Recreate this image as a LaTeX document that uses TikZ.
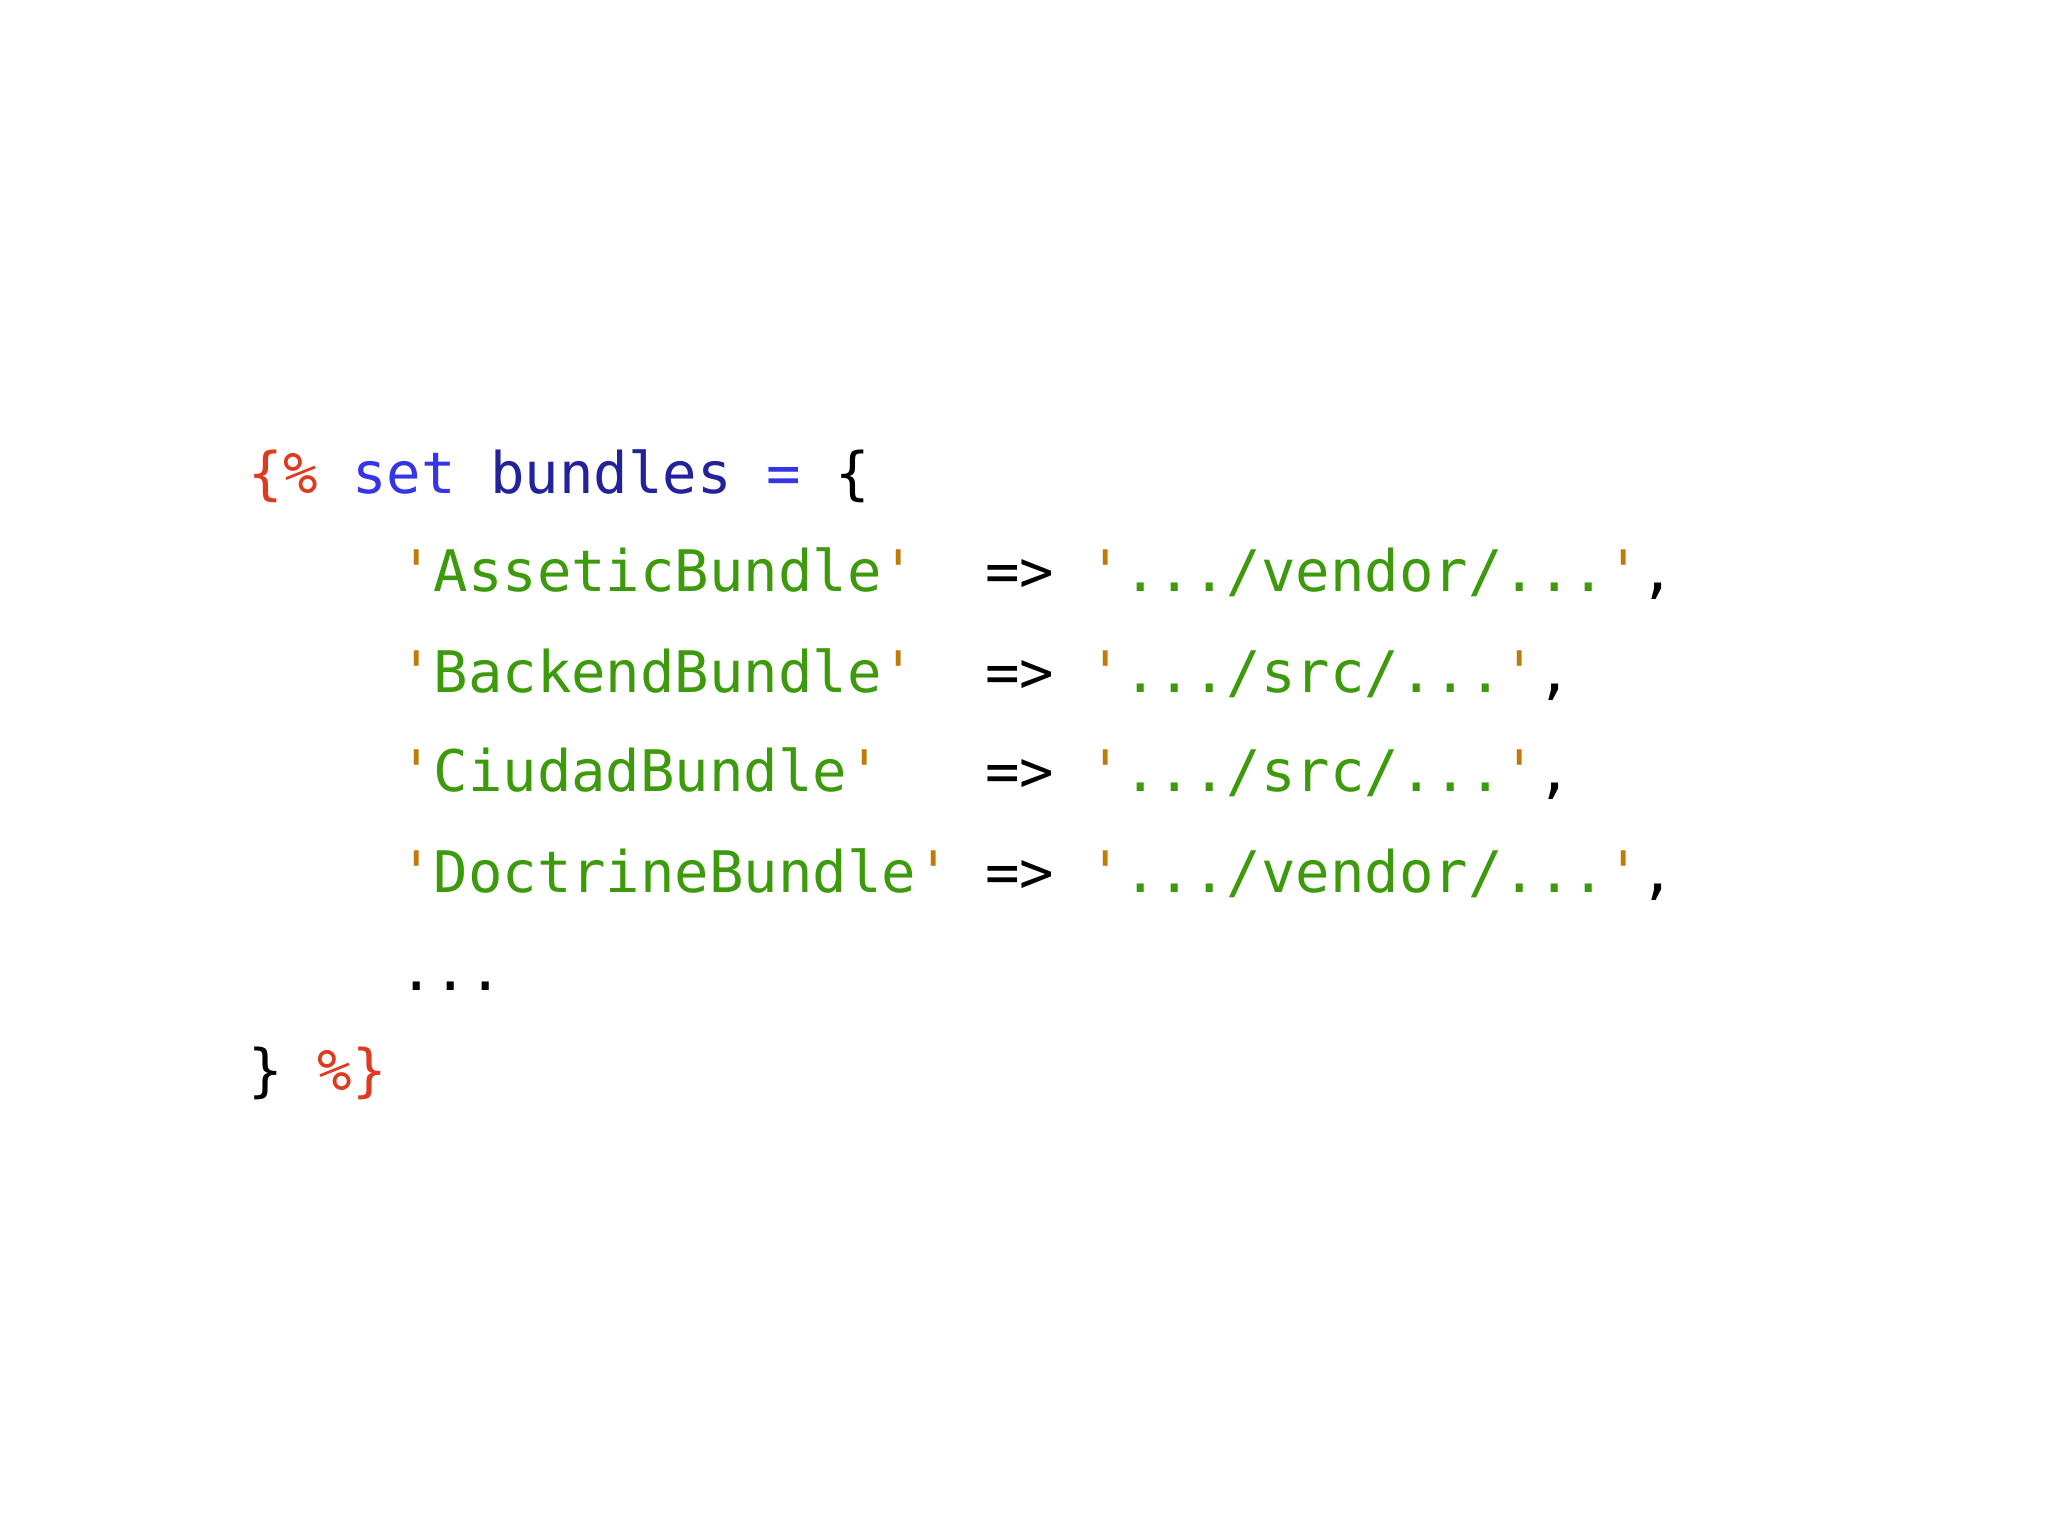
\documentclass[tikz,border=0pt]{standalone}
\usepackage{fontspec}
\setmonofont{DejaVu Sans Mono}
\definecolor{tred}{HTML}{E03A1E}
\definecolor{tblue}{HTML}{3535E8}
\definecolor{tdblue}{HTML}{22229A}
\definecolor{tgreen}{HTML}{3C9A0C}
\definecolor{tquote}{HTML}{C07A08}
\newcommand{\q}{\textcolor{tquote}{'}}
\newcommand{\s}[1]{\q\textcolor{tgreen}{#1}\q}
\begin{document}
\begin{tikzpicture}[x=0.01306cm,y=-0.01306cm,
  codeline/.style={anchor=base west,inner sep=0pt,font=\ttfamily\fontsize{16.3}{18}\selectfont}]
\useasboundingbox (0,0) rectangle (1568,1176);
\node[codeline] (l1) at (190,378) {\textcolor{tred}{\{\%}~\textcolor{tblue}{set}~\textcolor{tdblue}{bundles}~\textcolor{tblue}{=}~\{};
\node[codeline] (l2) at (305,453) {\s{AsseticBundle}~~=>~\s{.../vendor/...},};
\node[codeline] (l3) at (305,530) {\s{BackendBundle}~~=>~\s{.../src/...},};
\node[codeline] (l4) at (305,606) {\s{CiudadBundle}~~~=>~\s{.../src/...},};
\node[codeline] (l5) at (305,683) {\s{DoctrineBundle}~=>~\s{.../vendor/...},};
\node[codeline] (l6) at (305,758) {...};
\node[codeline] (l7) at (190,835) {\}~\textcolor{tred}{\%\}}};
\end{tikzpicture}
\end{document}
